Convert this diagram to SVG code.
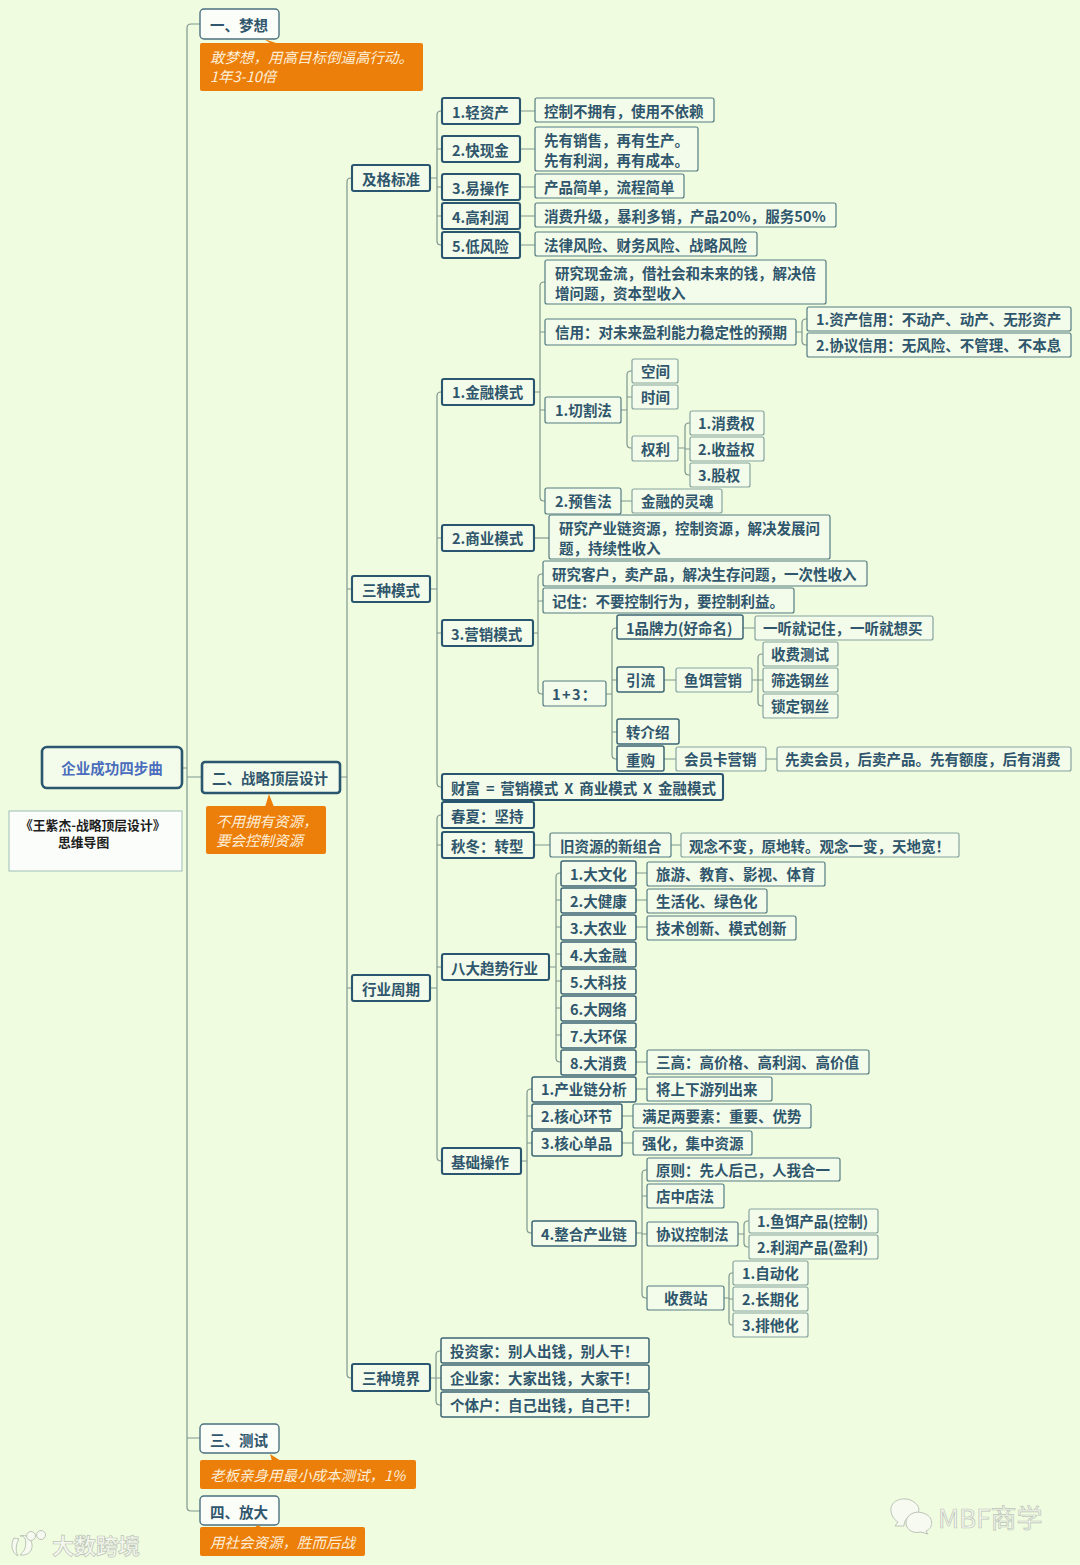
<svg xmlns="http://www.w3.org/2000/svg" width="1080" height="1565" viewBox="0 0 1080 1565">
<style>
text{font-family:"Noto Sans CJK SC","Liberation Sans",sans-serif;font-weight:700;font-size:14.5px;fill:#2f566c;transform:translate(0,.5px)}
rect{fill:#f3fbea}
.k{stroke:#2a5670;stroke-width:2.6}
.m{stroke:#2a5670;stroke-width:2.1}
.s{stroke:#3d6675;stroke-width:1.5}
.t{stroke:#557c82;stroke-width:1.2}
.l{stroke:#86a3a0;stroke-width:1.2}
.w{fill:#fbfdf8;stroke:#4a7080;stroke-width:1.4}
.n{fill:#ec7e0a;stroke:none}
.ni{fill:#fdeed8;font-style:italic;font-weight:400}
.c{fill:none;stroke:#7e9690;stroke-width:1.2}
.cn{fill:#ec7e0a;stroke:none}
.wm{font-weight:400;fill:#f4f8ee;stroke:#bcc4b8;stroke-width:.7}
.wi{fill:#f6faf0;stroke:#bcc4b8;stroke-width:1}
</style>
<rect width="1080" height="1565" style="fill:#f0fcdf"/>
<g id="connectors">
<path class="c" d="M182 768H187M200 24H191Q187 24 187 28V1507Q187 1511 191 1511H200M187 777H202M187 1438H200"/>
<path class="c" d="M340 777H347M352 178H351Q347 178 347 182V1374Q347 1378 351 1378H352M347 589H352M347 988H352"/>
<path class="c" d="M430 178H437M442 111H441Q437 111 437 115V241Q437 245 441 245H442M437 149H442M437 187H442M437 216H442M520 111H535M520 149H535M520 187H535M520 216H535M520 245H535"/>
<path class="c" d="M430 589H437M442 392H441Q437 392 437 396V783Q437 787 441 787H442M437 538H442M437 633H442"/>
<path class="c" d="M534 392H540M545 282H544Q540 282 540 286V497Q540 501 544 501H545M540 332H545M540 410H545M796 332H802M807 319H806Q802 319 802 323V341Q802 345 806 345H807M621 410H627M632 371H631Q627 371 627 375V444Q627 448 631 448H632M627 397H632M678 448H685M690 423H689Q685 423 685 427V471Q685 475 689 475H690M685 449H690M621 501H632"/>
<path class="c" d="M534 538H549"/>
<path class="c" d="M533 633H538M543 574H542Q538 574 538 578V690Q538 694 542 694H543M538 601H543M606 694H612M617 628H616Q612 628 612 632V755Q612 759 616 759H617M612 680H617M612 732H617M743 628H755M664 680H676M752 680H758M763 654H762Q758 654 758 658V702Q758 706 762 706H763M758 680H763M664 759H676M766 759H777"/>
<path class="c" d="M430 988H437M442 815H441Q437 815 437 819V1157Q437 1161 441 1161H442M437 845H442M437 967H442M534 845H550M671 845H681"/>
<path class="c" d="M550 967H556M561 873H560Q556 873 556 877V1058Q556 1062 560 1062H561M556 900H561M556 927H561M556 954H561M556 981H561M556 1008H561M556 1035H561M636 873H647M636 900H647M636 927H647M636 1062H647"/>
<path class="c" d="M521 1161H527M532 1089H531Q527 1089 527 1093V1229Q527 1233 531 1233H532M527 1116H532M527 1143H532M636 1089H647M622 1116H633M622 1143H633M636 1233H642M647 1170H646Q642 1170 642 1174V1294Q642 1298 646 1298H647M642 1196H647M642 1234H647M738 1234H744M749 1221H748Q744 1221 744 1225V1243Q744 1247 748 1247H749M724 1298H729M733 1273H732Q729 1273 729 1277V1321Q729 1325 732 1325H733M729 1299H733"/>
<path class="c" d="M430 1378H436M441 1351H440Q436 1351 436 1355V1401Q436 1405 440 1405H441M436 1378H441"/>
</g>
<g id="root"><rect x="42" y="747" width="140" height="41" rx="5" class="k"/><text x="112" y="773" text-anchor="middle" style="fill:#4a6dbd">企业成功四步曲</text></g>
<g id="title"><rect x="9" y="811" width="173" height="60" style="fill:#fbfdfb;stroke:#9dbdb8;stroke-width:1"/><text x="20" y="829" style="font-size:12.8px;fill:#1d1d1d">《王紫杰-战略顶层设计》</text><text x="58" y="846" style="font-size:12.8px;fill:#1d1d1d">思维导图</text></g>

<g id="s1"><rect x="200" y="9" width="79" height="30" rx="4" class="w"/><text x="210" y="30">一、梦想</text></g>
<g id="s1n"><path class="cn" d="M264 39L270 43H276Z"/><rect x="200" y="43" width="223" height="48" rx="2" class="n"/><text x="210" y="62" class="ni">敢梦想，用高目标倒逼高行动。</text><text x="210" y="81" class="ni">1年3-10倍</text></g>
<g id="s2"><rect x="202" y="762" width="138" height="31" rx="3" class="k"/><text x="212" y="783">二、战略顶层设计</text></g>
<g id="s2n"><path class="cn" d="M269 794L265 807H274Z"/><rect x="206" y="806" width="120" height="48" rx="2" class="n"/><text x="216" y="826" class="ni">不用拥有资源，</text><text x="216" y="845" class="ni">要会控制资源</text></g>
<g id="s3"><rect x="200" y="1424" width="79" height="29" rx="4" class="w"/><text x="210" y="1445">三、测试</text></g>
<g id="s3n"><path class="cn" d="M270 1454L281 1461H272Z"/><rect x="200" y="1460" width="216" height="29" rx="2" class="n"/><text x="210" y="1480" class="ni">老板亲身用最小成本测试，1%</text></g>
<g id="s4"><rect x="200" y="1496" width="79" height="29" rx="4" class="w"/><text x="210" y="1517">四、放大</text></g>
<g id="s4n"><path class="cn" d="M258 1525L262 1528H254Z"/><rect x="200" y="1527" width="165" height="29" rx="2" class="n"/><text x="210" y="1547" class="ni">用社会资源，胜而后战</text></g>

<g id="a1"><rect x="352" y="165" width="78" height="26" rx="2" class="m"/><text x="362" y="184">及格标准</text></g>
<g id="a2"><rect x="352" y="576" width="78" height="26" rx="2" class="m"/><text x="362" y="595">三种模式</text></g>
<g id="a3"><rect x="352" y="975" width="78" height="26" rx="2" class="m"/><text x="362" y="994">行业周期</text></g>
<g id="a4"><rect x="352" y="1364" width="78" height="27" rx="2" class="m"/><text x="362" y="1383">三种境界</text></g>

<g id="b1"><rect x="442" y="98" width="78" height="26" rx="2" class="m"/><text x="452" y="117">1.轻资产</text></g>
<g id="b2"><rect x="442" y="136" width="78" height="26" rx="2" class="m"/><text x="452" y="155">2.快现金</text></g>
<g id="b3"><rect x="442" y="174" width="78" height="26" rx="2" class="m"/><text x="452" y="193">3.易操作</text></g>
<g id="b4"><rect x="442" y="203" width="78" height="26" rx="2" class="m"/><text x="452" y="222">4.高利润</text></g>
<g id="b5"><rect x="442" y="232" width="78" height="26" rx="2" class="m"/><text x="452" y="251">5.低风险</text></g>
<g id="b1a"><rect x="535" y="98" width="179" height="24" rx="2" class="t"/><text x="544" y="116">控制不拥有，使用不依赖</text></g>
<g id="b2a"><rect x="535" y="127" width="163" height="44" rx="2" class="t"/><text x="544" y="145">先有销售，再有生产。</text><text x="544" y="165">先有利润，再有成本。</text></g>
<g id="b3a"><rect x="535" y="174" width="149" height="24" rx="2" class="t"/><text x="544" y="192">产品简单，流程简单</text></g>
<g id="b4a"><rect x="535" y="203" width="301" height="24" rx="2" class="t"/><text x="544" y="221" style="letter-spacing:.1px">消费升级，暴利多销，产品20%，服务50%</text></g>
<g id="b5a"><rect x="535" y="232" width="222" height="24" rx="2" class="t"/><text x="544" y="250">法律风险、财务风险、战略风险</text></g>

<g id="c1"><rect x="442" y="379" width="92" height="26" rx="2" class="m"/><text x="452" y="397">1.金融模式</text></g>
<g id="c1a"><rect x="545" y="260" width="281" height="44" rx="2" class="t"/><text x="555" y="278">研究现金流，借社会和未来的钱，解决倍</text><text x="555" y="298">增问题，资本型收入</text></g>
<g id="c1b"><rect x="545" y="319" width="251" height="26" rx="2" class="t"/><text x="555" y="337">信用：对未来盈利能力稳定性的预期</text></g>
<g id="c1b1"><rect x="807" y="307" width="264" height="24" rx="2" class="t"/><text x="816" y="324">1.资产信用：不动产、动产、无形资产</text></g>
<g id="c1b2"><rect x="807" y="333" width="264" height="24" rx="2" class="t"/><text x="816" y="350">2.协议信用：无风险、不管理、不本息</text></g>
<g id="c1c"><rect x="545" y="397" width="76" height="26" rx="2" class="t"/><text x="555" y="415">1.切割法</text></g>
<g id="c1c1"><rect x="632" y="359" width="46" height="24" rx="2" class="l"/><text x="641" y="376">空间</text></g>
<g id="c1c2"><rect x="632" y="385" width="46" height="24" rx="2" class="l"/><text x="641" y="402">时间</text></g>
<g id="c1c3"><rect x="632" y="436" width="46" height="25" rx="2" class="l"/><text x="641" y="454">权利</text></g>
<g id="c1c4"><rect x="690" y="411" width="74" height="24" rx="2" class="l"/><text x="698" y="428">1.消费权</text></g>
<g id="c1c5"><rect x="690" y="437" width="74" height="24" rx="2" class="l"/><text x="698" y="454">2.收益权</text></g>
<g id="c1c6"><rect x="690" y="463" width="60" height="24" rx="2" class="l"/><text x="698" y="480">3.股权</text></g>
<g id="c1d"><rect x="545" y="488" width="76" height="26" rx="2" class="t"/><text x="555" y="506">2.预售法</text></g>
<g id="c1d1"><rect x="632" y="489" width="90" height="24" rx="2" class="l"/><text x="641" y="506">金融的灵魂</text></g>

<g id="c2"><rect x="442" y="525" width="92" height="26" rx="2" class="m"/><text x="452" y="543">2.商业模式</text></g>
<g id="c2a"><rect x="549" y="515" width="281" height="44" rx="2" class="t"/><text x="559" y="533">研究产业链资源，控制资源，解决发展问</text><text x="559" y="553">题，持续性收入</text></g>

<g id="c3"><rect x="442" y="620" width="91" height="26" rx="2" class="m"/><text x="451" y="639">3.营销模式</text></g>
<g id="c3a"><rect x="543" y="561" width="324" height="25" rx="2" class="t"/><text x="552" y="579">研究客户，卖产品，解决生存问题，一次性收入</text></g>
<g id="c3b"><rect x="543" y="588" width="251" height="25" rx="2" class="t"/><text x="552" y="606">记住：不要控制行为，要控制利益。</text></g>
<g id="c3c"><rect x="543" y="681" width="63" height="25" rx="2" class="t"/><text x="552" y="699" style="letter-spacing:1.4px">1+3：</text></g>
<g id="d1"><rect x="617" y="615" width="126" height="24" rx="2" class="s"/><text x="626" y="633">1品牌力(好命名)</text></g>
<g id="d1a"><rect x="755" y="616" width="178" height="24" rx="2" class="l"/><text x="763" y="633">一听就记住，一听就想买</text></g>
<g id="d2"><rect x="617" y="667" width="47" height="25" rx="2" class="s"/><text x="626" y="685">引流</text></g>
<g id="d2a"><rect x="676" y="668" width="76" height="24" rx="2" class="l"/><text x="684" y="685">鱼饵营销</text></g>
<g id="d2b"><rect x="763" y="642" width="75" height="24" rx="2" class="l"/><text x="771" y="659">收费测试</text></g>
<g id="d2c"><rect x="763" y="668" width="75" height="24" rx="2" class="l"/><text x="771" y="685">筛选钢丝</text></g>
<g id="d2d"><rect x="763" y="694" width="75" height="24" rx="2" class="l"/><text x="771" y="711">锁定钢丝</text></g>
<g id="d3"><rect x="617" y="719" width="62" height="25" rx="2" class="s"/><text x="626" y="737">转介绍</text></g>
<g id="d4"><rect x="617" y="746" width="47" height="25" rx="2" class="s"/><text x="626" y="765">重购</text></g>
<g id="d4a"><rect x="676" y="747" width="90" height="24" rx="2" class="l"/><text x="684" y="764">会员卡营销</text></g>
<g id="d4b"><rect x="777" y="747" width="294" height="24" rx="2" class="l"/><text x="785" y="764">先卖会员，后卖产品。先有额度，后有消费</text></g>
<g id="c4"><rect x="442" y="774" width="281" height="26" rx="2" class="m"/><text x="451" y="793" style="word-spacing:2.6px">财富 = 营销模式 X 商业模式 X 金融模式</text></g>

<g id="e1"><rect x="442" y="802" width="92" height="26" rx="2" class="m"/><text x="451" y="821">春夏：坚持</text></g>
<g id="e2"><rect x="442" y="832" width="92" height="26" rx="2" class="m"/><text x="451" y="851">秋冬：转型</text></g>
<g id="e2a"><rect x="550" y="833" width="121" height="24" rx="2" class="t"/><text x="560" y="851">旧资源的新组合</text></g>
<g id="e2b"><rect x="681" y="833" width="278" height="24" rx="2" class="l"/><text x="689" y="851">观念不变，原地转。观念一变，天地宽！</text></g>
<g id="e3"><rect x="442" y="954" width="107" height="26" rx="2" class="m"/><text x="451" y="973">八大趋势行业</text></g>
<g id="f1"><rect x="561" y="861" width="75" height="25" rx="2" class="s"/><text x="570" y="879">1.大文化</text></g>
<g id="f1a"><rect x="647" y="862" width="178" height="24" rx="2" class="t"/><text x="656" y="879">旅游、教育、影视、体育</text></g>
<g id="f2"><rect x="561" y="888" width="75" height="25" rx="2" class="s"/><text x="570" y="906">2.大健康</text></g>
<g id="f2a"><rect x="647" y="889" width="120" height="24" rx="2" class="t"/><text x="656" y="906">生活化、绿色化</text></g>
<g id="f3"><rect x="561" y="915" width="75" height="25" rx="2" class="s"/><text x="570" y="933">3.大农业</text></g>
<g id="f3a"><rect x="647" y="916" width="149" height="24" rx="2" class="t"/><text x="656" y="933">技术创新、模式创新</text></g>
<g id="f4"><rect x="561" y="942" width="75" height="25" rx="2" class="s"/><text x="570" y="960">4.大金融</text></g>
<g id="f5"><rect x="561" y="969" width="75" height="25" rx="2" class="s"/><text x="570" y="987">5.大科技</text></g>
<g id="f6"><rect x="561" y="996" width="75" height="25" rx="2" class="s"/><text x="570" y="1014">6.大网络</text></g>
<g id="f7"><rect x="561" y="1023" width="75" height="25" rx="2" class="s"/><text x="570" y="1041">7.大环保</text></g>
<g id="f8"><rect x="561" y="1050" width="75" height="25" rx="2" class="s"/><text x="570" y="1068">8.大消费</text></g>
<g id="f8a"><rect x="647" y="1050" width="222" height="24" rx="2" class="t"/><text x="656" y="1067">三高：高价格、高利润、高价值</text></g>

<g id="e4"><rect x="442" y="1148" width="79" height="26" rx="2" class="m"/><text x="451" y="1167">基础操作</text></g>
<g id="g1"><rect x="532" y="1077" width="104" height="25" rx="2" class="s"/><text x="541" y="1094">1.产业链分析</text></g>
<g id="g1a"><rect x="647" y="1077" width="125" height="24" rx="2" class="t"/><text x="656" y="1094">将上下游列出来</text></g>
<g id="g2"><rect x="532" y="1104" width="90" height="25" rx="2" class="s"/><text x="541" y="1121">2.核心环节</text></g>
<g id="g2a"><rect x="633" y="1104" width="178" height="24" rx="2" class="t"/><text x="642" y="1121">满足两要素：重要、优势</text></g>
<g id="g3"><rect x="532" y="1131" width="90" height="25" rx="2" class="s"/><text x="541" y="1148">3.核心单品</text></g>
<g id="g3a"><rect x="633" y="1131" width="119" height="24" rx="2" class="t"/><text x="642" y="1148">强化，集中资源</text></g>
<g id="g4"><rect x="532" y="1221" width="104" height="25" rx="2" class="s"/><text x="541" y="1239">4.整合产业链</text></g>
<g id="g4a"><rect x="647" y="1158" width="193" height="23" rx="2" class="t"/><text x="656" y="1175">原则：先人后己，人我合一</text></g>
<g id="g4b"><rect x="647" y="1184" width="77" height="24" rx="2" class="t"/><text x="656" y="1201">店中店法</text></g>
<g id="g4c"><rect x="647" y="1222" width="91" height="24" rx="2" class="t"/><text x="656" y="1239">协议控制法</text></g>
<g id="g4c1"><rect x="749" y="1209" width="129" height="24" rx="2" class="l"/><text x="757" y="1226">1.鱼饵产品(控制)</text></g>
<g id="g4c2"><rect x="749" y="1235" width="129" height="24" rx="2" class="l"/><text x="757" y="1252">2.利润产品(盈利)</text></g>
<g id="g4d"><rect x="647" y="1286" width="77" height="24" rx="2" class="t"/><text x="664" y="1303">收费站</text></g>
<g id="g4d1"><rect x="733" y="1261" width="75" height="24" rx="2" class="l"/><text x="742" y="1278">1.自动化</text></g>
<g id="g4d2"><rect x="733" y="1287" width="75" height="24" rx="2" class="l"/><text x="742" y="1304">2.长期化</text></g>
<g id="g4d3"><rect x="733" y="1313" width="75" height="24" rx="2" class="l"/><text x="742" y="1330">3.排他化</text></g>

<g id="h1"><rect x="441" y="1338" width="208" height="25" rx="2" class="s"/><text x="450" y="1356">投资家：别人出钱，别人干！</text></g>
<g id="h2"><rect x="441" y="1365" width="208" height="25" rx="2" class="s"/><text x="450" y="1383">企业家：大家出钱，大家干！</text></g>
<g id="h3"><rect x="441" y="1392" width="208" height="25" rx="2" class="s"/><text x="450" y="1410">个体户：自己出钱，自己干！</text></g>

<g id="wm1"><path class="wi" d="M14 1538C10 1545 12 1553 18 1556C15 1550 16 1544 19 1539ZM20 1536C25 1535 27 1541 25 1548C24 1552 21 1553 20 1555C28 1556 33 1551 32 1544C31 1538 26 1534 20 1536Z"/><circle class="wi" cx="31" cy="1536" r="4.5"/><circle class="wi" cx="41" cy="1535" r="4.5"/><text x="52" y="1553" class="wm" style="font-size:22px;font-weight:700">大数跨境</text></g>
<g id="wm2"><path class="wi" d="M892 1515C886 1500 905 1495 914 1502C921 1507 919 1512 917 1514C908 1515 904 1520 904 1526L895 1526L898 1522C896 1521 893 1518 892 1515Z"/><path class="wi" d="M906 1524C905 1515 915 1510 923 1513C934 1516 934 1528 926 1531L928 1534L921 1532C913 1534 907 1530 906 1524Z"/><text x="938" y="1527" class="wm" style="font-size:26px">MBF商学</text></g>
</svg>
